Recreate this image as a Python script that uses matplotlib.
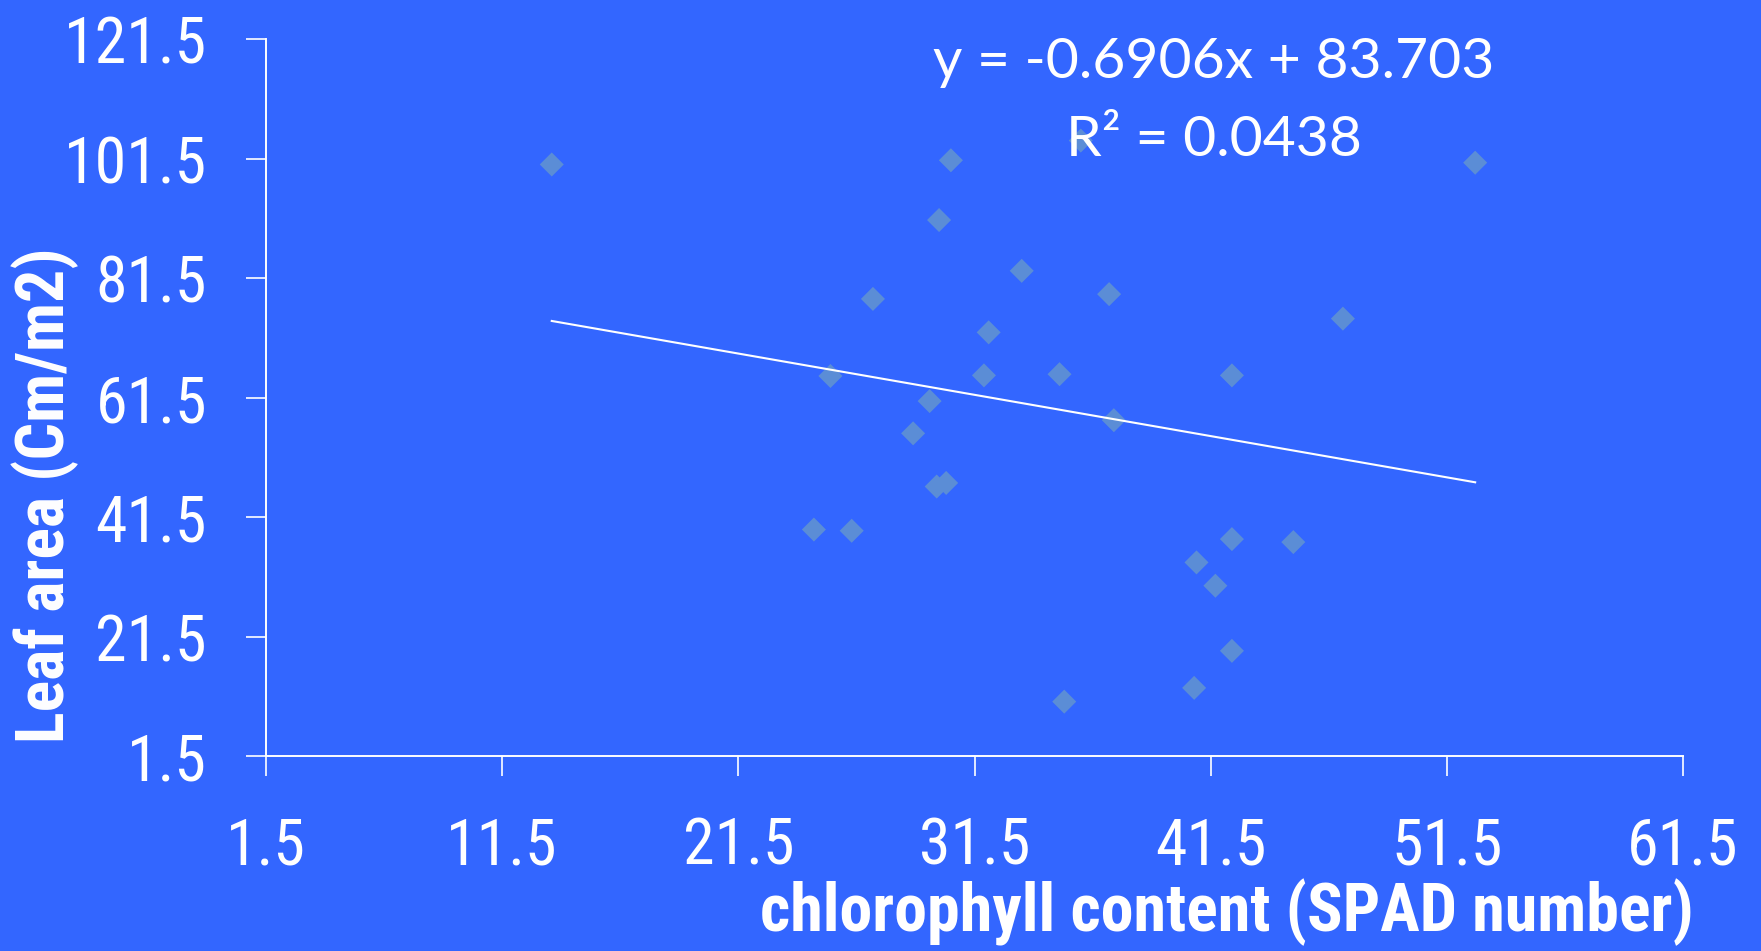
import matplotlib
matplotlib.use("Agg")
import matplotlib.pyplot as plt
import numpy as np
from matplotlib import font_manager

# data
chlorophyll = [13.6, 30.5, 52.7, 30.0, 33.5, 27.2, 37.2, 47.1, 32.1, 25.4,
               31.9, 35.1, 42.4, 29.6, 37.4, 28.9, 29.9, 30.3, 24.7, 26.3,
               42.4, 45.0, 40.9, 41.7, 42.4, 40.8, 35.3, 36.0]
leaf_area = [100.5, 101.2, 100.8, 91.2, 82.7, 78.0, 78.8, 74.7, 72.4, 65.1,
             65.2, 65.4, 65.2, 60.9, 57.7, 55.5, 46.6, 47.2, 39.4, 39.2,
             37.8, 37.3, 33.9, 30.0, 19.1, 12.9, 10.6, 104.5]
trend_slope = -0.6906
trend_intercept = 83.703
r_squared = 0.0438
x_ticks = [1.5, 11.5, 21.5, 31.5, 41.5, 51.5, 61.5]
y_ticks = [1.5, 21.5, 41.5, 61.5, 81.5, 101.5, 121.5]

BG = "#3366FF"
MARKER = "#5B8DD6"


def pick_font(candidates):
    for name in candidates:
        try:
            font_manager.findfont(name, fallback_to_default=False)
            return name
        except Exception:
            continue
    return "DejaVu Sans"


narrow = pick_font(["Roboto Condensed", "Liberation Sans Narrow", "Roboto"])
eq_font = pick_font(["Lato", "Open Sans", "Noto Sans"])
tick_size = 41 if narrow == "Roboto" else 46
label_size = 42 if narrow == "Roboto" else 47.5

fig = plt.figure(figsize=(17.61, 9.51), dpi=100, facecolor=BG)
ax = fig.add_axes([266 / 1761, 1 - 756 / 951, (1683 - 266) / 1761, (756 - 39) / 951])
ax.set_facecolor(BG)

ax.scatter(chlorophyll, leaf_area, marker="D", s=150, color=MARKER,
           edgecolors="none", zorder=2)

x_line = np.array([min(chlorophyll), max(chlorophyll)])
ax.plot(x_line, trend_slope * x_line + trend_intercept, color="white",
        linewidth=1.5, zorder=3)

ax.set_xlim(x_ticks[0], x_ticks[-1])
ax.set_ylim(y_ticks[0], y_ticks[-1])
ax.set_xticks(x_ticks)
ax.set_yticks(y_ticks)
ax.set_xticklabels([f"{v:.1f}" for v in x_ticks])
ax.set_yticklabels([f"{v:.1f}" for v in y_ticks])

for side in ("top", "right"):
    ax.spines[side].set_visible(False)
for side in ("left", "bottom"):
    ax.spines[side].set_color("white")
    ax.spines[side].set_linewidth(1.4)
ax.tick_params(axis="both", direction="out", length=14.5, width=1.2,
               color="white", labelcolor="white", pad=28)
for label in ax.get_xticklabels() + ax.get_yticklabels():
    label.set_fontfamily(narrow)
    label.set_fontsize(tick_size)

ax.text(1214 / 1761, 1 - 62 / 951, f"y = {trend_slope}x + {trend_intercept}",
        transform=fig.transFigure, ha="center", va="center", color="white",
        fontsize=41, family=eq_font)
ax.text(1214 / 1761, 1 - 141 / 951, f"R² = {r_squared}",
        transform=fig.transFigure, ha="center", va="center", color="white",
        fontsize=41, family=eq_font)

fig.text(1227 / 1761, 1 - 912 / 951, "chlorophyll content (SPAD number)",
         ha="center", va="center", color="white", fontsize=label_size,
         fontweight="bold", family=narrow)
fig.text(45 / 1761, 1 - 495 / 951, "Leaf area (Cm/m2)", rotation=90,
         ha="center", va="center", color="white", fontsize=label_size,
         fontweight="bold", family=narrow)

fig.savefig("out.png", dpi=100, facecolor=BG)
